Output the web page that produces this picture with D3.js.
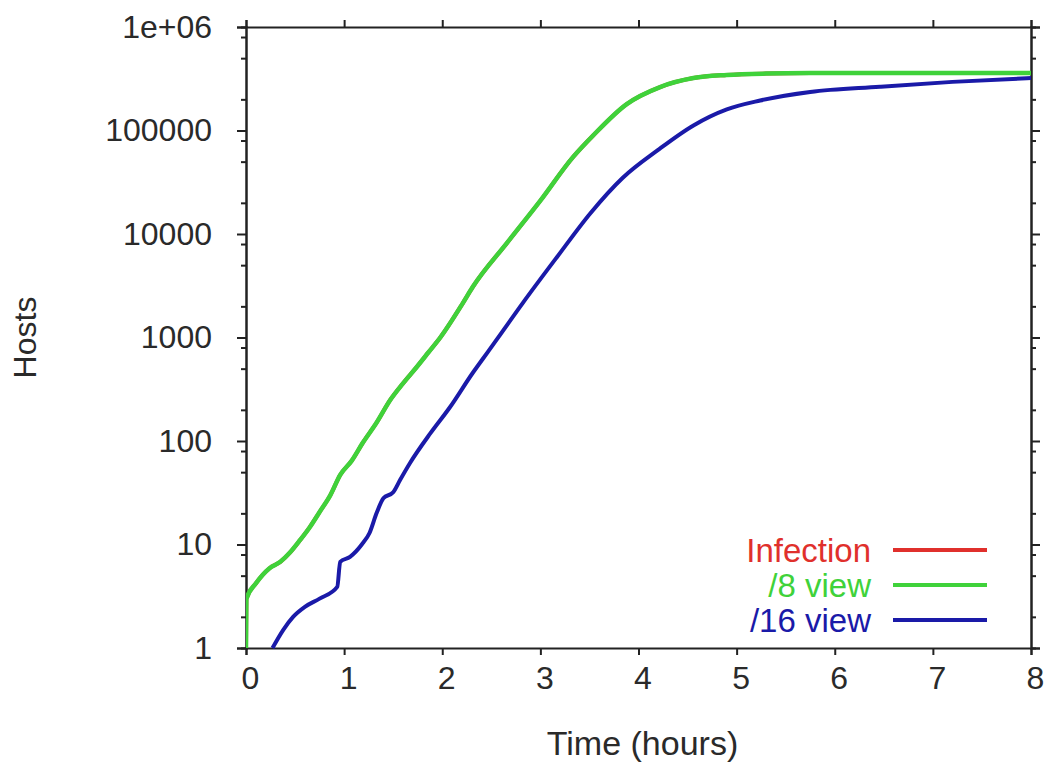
<!DOCTYPE html>
<html>
<head>
<meta charset="utf-8">
<script src="https://cdn.jsdelivr.net/npm/d3@7"></script>
<style>
body{margin:0;background:#fff;}
svg text{font-family:"Liberation Sans",Arial,sans-serif;fill:#2a2a2a;}
.axis path,.axis line{stroke:#222;stroke-width:2;}
.axis text{font-size:32px;}
</style>
</head>
<body>
<svg id="chart" width="1049" height="771"></svg>
<script>
// ---------- data ----------
const xTicks=[0,1,2,3,4,5,6,7,8];
const yTicks=[1,10,100,1000,10000,100000,1000000];
const yTickLabels=["1","10","100","1000","10000","100000","1e+06"];
const seriesNames=["Infection","/8 view","/16 view"];
const seriesColors=["#e0302c","#3fd23a","#1a1aa8"];

// /8 view (infection follows the same curve underneath)
const t8=[0,0.005,0.1,0.24,0.35,0.45,0.55,0.65,0.75,0.86,0.96,1.08,1.19,1.33,1.47,1.6,1.74,1.86,1.98,2.21,2.31,2.66,3.0,3.33,3.54,3.88,4.22,4.56,4.9,5.3,5.75,6.5,7.2,8];
const v8=[1,3,4.2,5.9,6.8,8.4,11,14.7,20.6,30,47,65,96,150,249,360,519,720,1000,2150,3070,8200,21000,55000,90000,180000,263000,321000,344000,355000,359000,360000,360000,360000];
const tInf=t8.slice();
const vInf=v8.slice();
// /16 view
const t16=[0.27,0.38,0.48,0.6,0.75,0.93,0.96,1.06,1.18,1.26,1.33,1.4,1.5,1.57,1.67,1.88,2.08,2.31,2.42,2.56,2.82,3.17,3.51,3.84,4.2,4.56,4.9,5.24,5.75,6.46,7.2,8];
const v16=[1,1.5,2.0,2.5,3.0,3.9,6.8,7.6,10,13,20,28,32,42,61,119,213,454,634,970,2150,6000,15900,35000,65000,112000,160000,195000,236000,265000,295000,321000];

const margin={top:27,right:18,bottom:123,left:246};
const W=1049,H=771;
const innerW=W-margin.left-margin.right;
const innerH=H-margin.top-margin.bottom;

const svg=d3.select("#chart");
const g=svg.append("g").attr("transform",`translate(${margin.left},${margin.top})`);

const x=d3.scaleLinear().domain([0,8]).range([0,innerW]);
const y=d3.scaleLog().domain([1,1e6]).range([innerH,0]);

// minor ticks at 2,5,8 of every decade
const minorTicks=[];
yTicks.slice(0,-1).forEach(d=>[2,5,8].forEach(m=>minorTicks.push(d*m)));

// ---------- axes ----------
const xAxis=g.append("g").attr("class","axis").attr("transform",`translate(0,${innerH})`)
  .call(d3.axisBottom(x).tickValues(xTicks).tickFormat(d3.format("d")).tickSize(7).tickPadding(11));
xAxis.selectAll("text").attr("dx",4);
g.append("g").attr("class","axis")
  .call(d3.axisTop(x).tickValues(xTicks).tickFormat("").tickSize(7));
g.append("g").attr("class","axis")
  .call(d3.axisLeft(y).tickValues(yTicks).tickFormat((d,i)=>yTickLabels[i]).tickSize(9).tickPadding(25));
g.append("g").attr("class","axis")
  .call(d3.axisLeft(y).tickValues(minorTicks).tickFormat("").tickSize(5));
g.append("g").attr("class","axis").attr("transform",`translate(${innerW},0)`)
  .call(d3.axisRight(y).tickValues(yTicks).tickFormat("").tickSize(9));
g.append("g").attr("class","axis").attr("transform",`translate(${innerW},0)`)
  .call(d3.axisRight(y).tickValues(minorTicks).tickFormat("").tickSize(5));

// ---------- lines ----------
const line=d3.line().x(d=>x(d[0])).y(d=>y(d[1])).curve(d3.curveMonotoneX);
const series=[
  {pts:d3.zip(tInf,vInf),color:seriesColors[0],w:4},
  {pts:d3.zip(t8,v8),color:seriesColors[1],w:4.5},
  {pts:d3.zip(t16,v16),color:seriesColors[2],w:4}
];
g.append("defs").append("clipPath").attr("id","clip")
  .append("rect").attr("width",innerW).attr("height",innerH+2);
series.forEach(s=>{
  g.append("path").attr("clip-path","url(#clip)")
    .attr("d",line(s.pts))
    .attr("fill","none")
    .attr("stroke",s.color)
    .attr("stroke-width",s.w)
    .attr("stroke-linejoin","round");
});

// ---------- legend ----------
const legend=g.append("g").attr("transform",`translate(${innerW-138},${innerH-98})`);
seriesNames.forEach((name,i)=>{
  const row=legend.append("g").attr("transform",`translate(0,${i*35})`);
  row.append("text").attr("x",-22).attr("y",0).attr("dy","0.35em")
    .attr("text-anchor","end").style("font-size","33px").style("fill",seriesColors[i])
    .text(name);
  row.append("line").attr("x1",0).attr("x2",94).attr("y1",0).attr("y2",0)
    .attr("stroke",seriesColors[i]).attr("stroke-width",4);
});

// ---------- labels ----------
g.append("text").attr("x",innerW/2+4).attr("y",innerH+107)
  .attr("text-anchor","middle").style("font-size","34px").text("Time (hours)");
g.append("text").attr("transform",`translate(${-210},${innerH/2}) rotate(-90)`)
  .attr("text-anchor","middle").style("font-size","32px").text("Hosts");
</script>
</body>
</html>
